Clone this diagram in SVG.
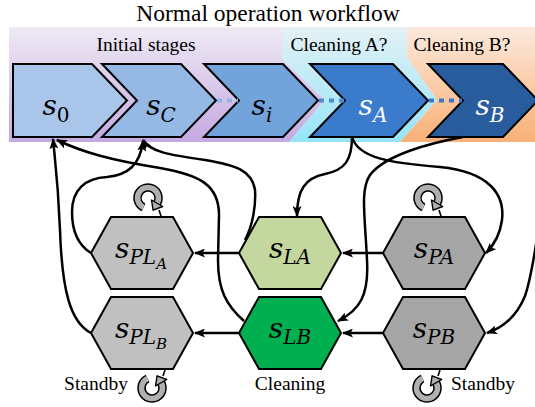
<svg xmlns="http://www.w3.org/2000/svg" width="535" height="407" viewBox="0 0 535 407">
<defs>
<linearGradient id="gP" x1="0" y1="0" x2="0" y2="1"><stop offset="0" stop-color="#efeaf4"/><stop offset="1" stop-color="#c4a9e2"/></linearGradient>
<linearGradient id="gC" x1="0" y1="0" x2="0" y2="1"><stop offset="0" stop-color="#e4f1f5"/><stop offset="1" stop-color="#95e4f8"/></linearGradient>
<linearGradient id="gO" x1="0" y1="0" x2="0" y2="1"><stop offset="0" stop-color="#fce9dc"/><stop offset="1" stop-color="#f8b077"/></linearGradient>
<marker id="ah" markerWidth="11" markerHeight="9" refX="10" refY="4.5" orient="auto" markerUnits="userSpaceOnUse"><path d="M0,0 L11,4.5 L0,9 L2.5,4.5 z" fill="#000"/></marker>
<g id="loop">
<path d="M-4.4,9.5 A10.5,10.5 0 1 1 9.1,5.25" fill="none" stroke="#000" stroke-width="8.5"/>
<path d="M-4.4,9.5 A10.5,10.5 0 1 1 9.1,5.25" fill="none" stroke="#b0b0b0" stroke-width="5.5"/>
<polygon points="14.7,8.5 3.5,2 5.1,12.2" fill="#b0b0b0" stroke="#000" stroke-width="1.4" stroke-linejoin="round"/>
<line x1="11" y1="12" x2="13" y2="18" stroke="#000" stroke-width="1.6"/>
</g>
</defs>
<style>
.t{font-family:"Liberation Serif","Times New Roman",serif;fill:#000}
.m{font-family:"DejaVu Serif",serif;font-style:italic;font-size:28px}
.sb{font-size:20px}
.ss{font-size:15px}
.up{font-style:normal}
.w{fill:#fff}
.shape{stroke:#000;stroke-width:2;stroke-linejoin:miter}
.edge{fill:none;stroke:#000;stroke-width:2.5;marker-end:url(#ah)}
.dot{stroke-width:4;stroke-dasharray:5 5;fill:none}
</style>

<g id="background">
<polygon points="9,27 282,27 282,58 325,100 289,142 9,142" fill="url(#gP)"/>
<polygon points="282,27 407,27 407,57 437,100 400,142 289,142 325,100 282,58" fill="url(#gC)"/>
<polygon points="407,27 535,27 535,142 400,142 437,100 407,57" fill="url(#gO)"/>
<text class="t" x="268" y="21" font-size="23.5" text-anchor="middle">Normal operation workflow</text>
<text class="t" x="146" y="51" font-size="19.5" text-anchor="middle">Initial stages</text>
<text class="t" x="339" y="51" font-size="19.5" text-anchor="middle">Cleaning A?</text>
<text class="t" x="462" y="51" font-size="19.5" text-anchor="middle">Cleaning B?</text>
</g>

<g id="s0">
<polygon class="shape" points="13,64 92,64 127,100.5 92,137 13,137" fill="#a9c6ea"/>
<text class="m" x="56" y="115" text-anchor="middle">s<tspan class="sb up" dy="7">0</tspan></text>
</g>
<g id="sC">
<polygon class="shape" points="102,64 181,64 216,100.5 181,137 102,137 137,100.5" fill="#95b9e4"/>
<text class="m" x="161" y="115" text-anchor="middle">s<tspan class="sb" dy="7">C</tspan></text>
</g>
<g id="si">
<polygon class="shape" points="204,64 283,64 318,100.5 283,137 204,137 239,100.5" fill="#72a3db"/>
<text class="m" x="262" y="115" text-anchor="middle">s<tspan class="sb" dy="7">i</tspan></text>
</g>
<g id="sA">
<polygon class="shape" points="310,64 393,64 428,100.5 393,137 310,137 345,100.5" fill="#3a7bcc"/>
<text class="m w" x="373" y="115" text-anchor="middle">s<tspan class="sb" dy="7">A</tspan></text>
</g>
<g id="sB">
<polygon class="shape" points="428,64 503,64 538,100.5 503,137 428,137 463,100.5" fill="#285c9c"/>
<text class="m w" x="490" y="115" text-anchor="middle">s<tspan class="sb" dy="7">B</tspan></text>
</g>

<g id="SPLA">
<polygon class="shape" points="91,253 111,217 173,217 193,253 173,289 111,289" fill="#c0c0c0"/>
<text class="m" x="141" y="258" text-anchor="middle">s<tspan class="sb" dy="6">PL</tspan><tspan class="ss" dy="5">A</tspan></text>
</g>
<g id="SPLB">
<polygon class="shape" points="91,333 111,297 173,297 193,333 173,369 111,369" fill="#c0c0c0"/>
<text class="m" x="141" y="338" text-anchor="middle">s<tspan class="sb" dy="6">PL</tspan><tspan class="ss" dy="5">B</tspan></text>
</g>
<g id="SLA">
<polygon class="shape" points="239,253 259,217 321,217 341,253 321,289 259,289" fill="#c4d79f"/>
<text class="m" x="290" y="258" text-anchor="middle">s<tspan class="sb" dy="6">LA</tspan></text>
</g>
<g id="SLB">
<polygon class="shape" points="239,333 259,297 321,297 341,333 321,369 259,369" fill="#00b050"/>
<text class="m" x="290" y="338" text-anchor="middle">s<tspan class="sb" dy="6">LB</tspan></text>
</g>
<g id="SPA">
<polygon class="shape" points="383,253 403,217 465,217 485,253 465,289 403,289" fill="#a6a6a6"/>
<text class="m" x="434" y="258" text-anchor="middle">s<tspan class="sb" dy="6">PA</tspan></text>
</g>
<g id="SPB">
<polygon class="shape" points="383,333 403,297 465,297 485,333 465,369 403,369" fill="#a6a6a6"/>
<text class="m" x="434" y="338" text-anchor="middle">s<tspan class="sb" dy="6">PB</tspan></text>
</g>

<g id="loops">
<use href="#loop" transform="translate(148,198)"/>
<use href="#loop" transform="translate(428,198)"/>
<use href="#loop" transform="translate(152,388) scale(1,-1)"/>
<use href="#loop" transform="translate(427,388) scale(1,-1)"/>
</g>

<g id="labels">
<text class="t" x="128" y="390" font-size="19.5" text-anchor="end">Standby</text>
<text class="t" x="290" y="390" font-size="19.5" text-anchor="middle">Cleaning</text>
<text class="t" x="451" y="390" font-size="19.5">Standby</text>
</g>

<g id="connectors">
<path class="dot" d="M217,100.5 L238,100.5" stroke="#8db6e4"/>
<path class="dot" d="M319,100.5 L344,100.5" stroke="#4f8cd2"/>
<path class="dot" d="M429,100.5 L462,100.5" stroke="#3a78c6"/>
<path class="edge" d="M91,333 C70,322 62,290 60,230 C58,180 55,160 53,139"/>
<path class="edge" d="M244,321 C226,305 218,290 218,260 L219,215 C219,185 200,175 160,168 C110,160 82,152 57,140"/>
<path class="edge" d="M245,240 C253,225 256,205 255,190 C252,170 235,165 205,160 C170,155 150,152 143,140"/>
<path class="edge" d="M91,253 C78,245 72,232 72,212 C72,190 85,178 107,177 C128,175 140,165 143,141"/>
<path class="edge" d="M352,137 C352,160 345,170 325,174 C305,178 297,190 297,216"/>
<path class="edge" d="M352,137 C358,158 390,163 440,167 C490,172 505,195 502,220 C500,235 494,245 486,253"/>
<path class="edge" d="M463,137 C430,143 385,155 370,175 C360,190 365,215 367,260 C369,295 360,310 338,321"/>
<path class="edge" d="M545,195 C536,235 534,270 525,296 C516,318 502,328 487,333"/>
<path class="edge" d="M383,253 L343,253"/>
<path class="edge" d="M239,253 L195,253"/>
<path class="edge" d="M383,333 L343,333"/>
<path class="edge" d="M239,333 L195,333"/>
</g>
</svg>
